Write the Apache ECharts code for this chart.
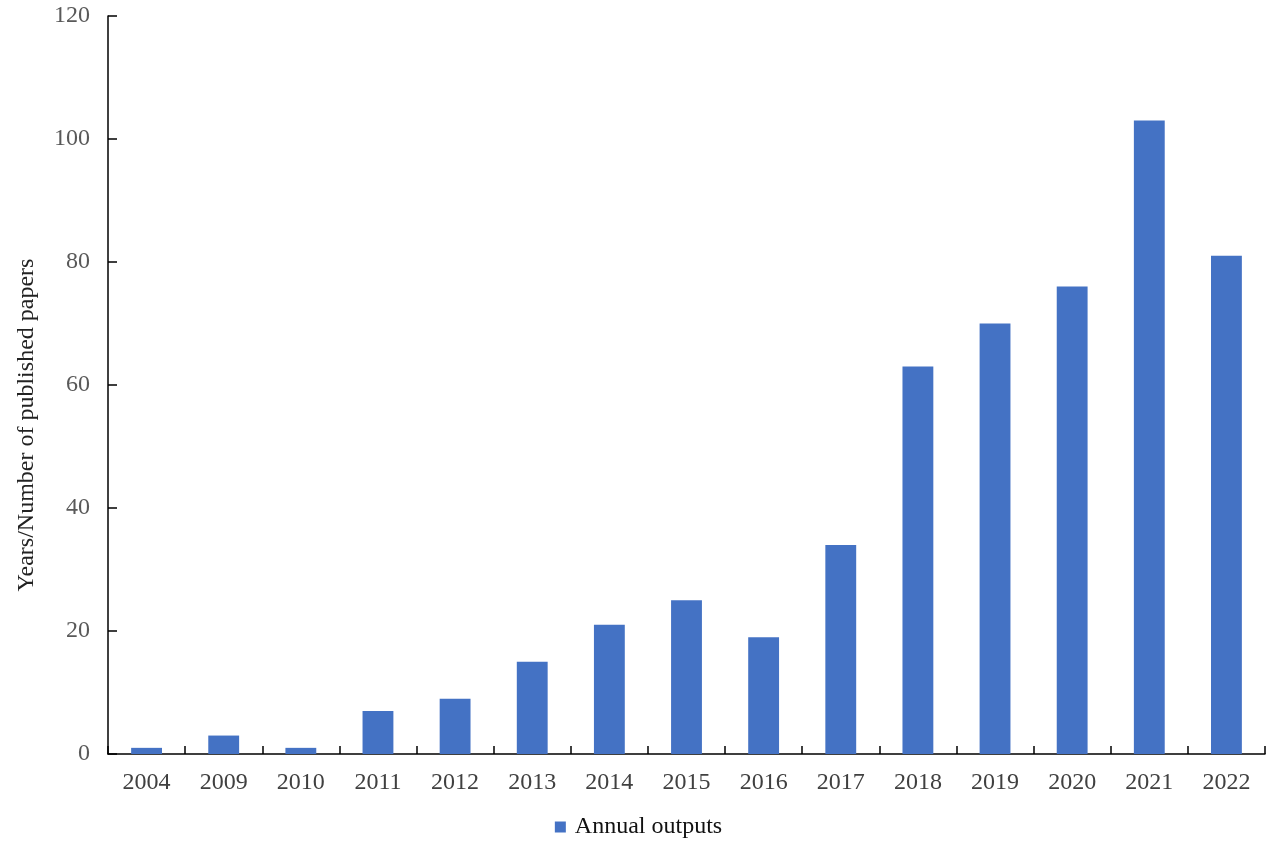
<!DOCTYPE html>
<html>
<head>
<meta charset="UTF-8">
<title>Annual outputs</title>
<script src="https://cdn.jsdelivr.net/npm/echarts@6/dist/echarts.min.js"></script>
<style>
  html, body { margin: 0; padding: 0; background: #fff; }
  #chart { width: 1277px; height: 846px; }
</style>
</head>
<body>
<div id="chart"></div>
<script>
const years = ["2004", "2009", "2010", "2011", "2012", "2013", "2014", "2015",
  "2016", "2017", "2018", "2019", "2020", "2021", "2022"];
const annualOutputs = [1, 3, 1, 7, 9, 15, 21, 25, 19, 34, 63, 70, 76, 103, 81];
const yTicks = { min: 0, max: 120, interval: 20 };

const font = "'Liberation Serif', 'DejaVu Serif', serif";
const chart = echarts.init(document.getElementById("chart"));

chart.setOption({
  animation: false,
  textStyle: { fontFamily: font },
  grid: { left: 108, right: 12, top: 16, bottom: 92 },
  legend: {
    bottom: 2,
    left: "center",
    itemWidth: 11,
    itemHeight: 11,
    itemGap: 10,
    textStyle: { fontFamily: font, fontSize: 24, color: "#111", padding: [0, 0, 0, 4] },
    data: [{ name: "Annual outputs", icon: "rect" }],
  },
  xAxis: {
    type: "category",
    data: years,
    axisLine: { lineStyle: { color: "#000", width: 1.5 } },
    axisTick: { show: true, inside: true, length: 8, alignWithLabel: false, lineStyle: { color: "#000", width: 1.5 } },
    axisLabel: { fontFamily: font, fontSize: 24, color: "#404040", margin: 17 },
  },
  yAxis: {
    type: "value",
    min: yTicks.min,
    max: yTicks.max,
    interval: yTicks.interval,
    name: "Years/Number of published papers",
    nameLocation: "middle",
    nameRotate: 90,
    nameGap: 69,
    nameTextStyle: { fontFamily: font, fontSize: 24, color: "#222", padding: [0, 80, 0, 0] },
    axisLine: { show: true, lineStyle: { color: "#000", width: 1.5 } },
    axisTick: { show: true, inside: true, length: 9, lineStyle: { color: "#000", width: 1.5 } },
    axisLabel: { fontFamily: font, fontSize: 24, color: "#595959", margin: 18 },
    splitLine: { show: false },
  },
  series: [
    {
      name: "Annual outputs",
      type: "bar",
      data: annualOutputs,
      barWidth: "40%",
      itemStyle: { color: "#4472C4" },
    },
  ],
});
</script>
</body>
</html>
